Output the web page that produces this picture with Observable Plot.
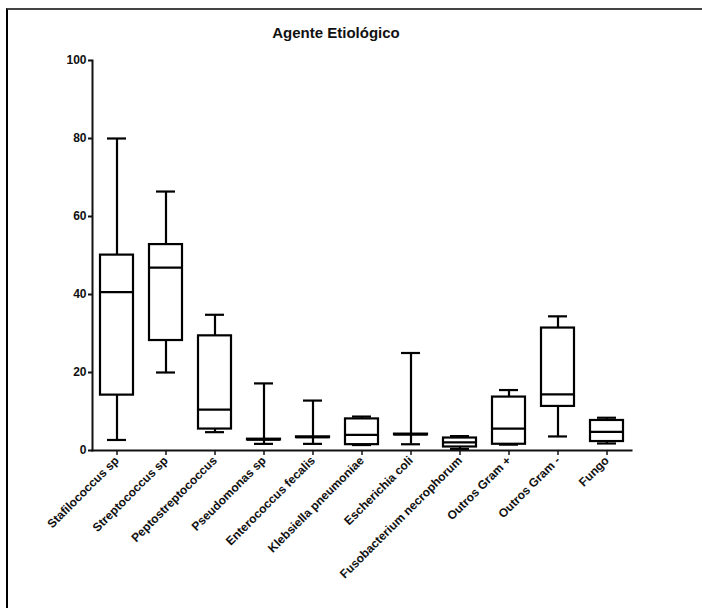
<!DOCTYPE html>
<html>
<head>
<meta charset="utf-8">
<script src="https://cdn.jsdelivr.net/npm/d3@7"></script>
<script src="https://cdn.jsdelivr.net/npm/@observablehq/plot@0.6"></script>
<style>
  html, body { margin: 0; padding: 0; background: #fff; }
  #wrap { position: relative; width: 702px; height: 608px; overflow: hidden; font-family: "Liberation Sans", Arial, sans-serif; }
  #border { position: absolute; left: 6px; top: 8px; width: 720px; height: 620px; border-left: 2px solid #000; border-top: 2px solid #444; }
  #title { position: absolute; left: 0; width: 672px; top: 24px; text-align: center; font-weight: bold; font-size: 15px; color: #111; }
  #chart { position: absolute; left: 0; top: 0; }
</style>
</head>
<body>
<div id="wrap">
  <div id="border"></div>
  <div id="title">Agente Etiológico</div>
  <div id="chart"></div>
</div>
<script>
const categories = ["Stafilococcus sp", "Streptococcus sp", "Peptostreptococcus", "Pseudomonas sp", "Enterococcus fecalis", "Klebsiella pneumoniae", "Escherichia coli", "Fusobacterium necrophorum", "Outros Gram +", "Outros Gram -", "Fungo"];
const mins    = [2.7, 20.0, 4.7, 1.7, 1.7, 1.4, 1.6, 0.4, 1.5, 3.6, 1.8];
const q1s     = [14.2, 28.2, 5.5, 2.7, 3.3, 1.5, 4.0, 0.9, 1.6, 11.3, 2.3];
const medians = [40.6, 46.9, 10.5, 2.8, 3.4, 4.0, 4.1, 2.1, 5.6, 14.4, 4.8];
const q3s     = [50.1, 52.8, 29.4, 2.9, 3.5, 8.1, 4.2, 3.2, 13.7, 31.4, 7.7];
const maxs    = [80.0, 66.4, 34.8, 17.2, 12.8, 8.7, 25.0, 3.7, 15.5, 34.4, 8.4];
const yTicks  = [0, 20, 40, 60, 80, 100];

const rows = categories.map((c, i) => ({cat: c, min: mins[i], q1: q1s[i], med: medians[i], q3: q3s[i], max: maxs[i]}));

const plot = Plot.plot({
  width: 702,
  height: 600,
  marginLeft: 92,
  marginRight: 71,
  marginTop: 60,
  marginBottom: 150,
  style: {fontFamily: "'Liberation Sans', Arial, sans-serif", background: "transparent", color: "#111"},
  x: {type: "band", domain: categories, padding: 0, label: null},
  y: {domain: [0, 100], label: null},
  marks: [
    // whiskers
    Plot.ruleX(rows, {x: "cat", y1: "min", y2: "q1", stroke: "#000", strokeWidth: 2.2}),
    Plot.ruleX(rows, {x: "cat", y1: "q3", y2: "max", stroke: "#000", strokeWidth: 2.2}),
    // caps
    Plot.tickY(rows, {x: "cat", y: "min", stroke: "#000", strokeWidth: 2.2, insetLeft: 15, insetRight: 15}),
    Plot.tickY(rows, {x: "cat", y: "max", stroke: "#000", strokeWidth: 2.2, insetLeft: 15, insetRight: 15}),
    // boxes
    Plot.barY(rows, {x: "cat", y1: "q1", y2: "q3", fill: "#fff", stroke: "#000", strokeWidth: 2.2, insetLeft: 8, insetRight: 8, insetTop: 0, insetBottom: 0}),
    // medians
    Plot.tickY(rows, {x: "cat", y: "med", stroke: "#000", strokeWidth: 2.2, insetLeft: 8, insetRight: 8}),
    // axes
    Plot.axisY({ticks: yTicks, tickSize: 4, tickPadding: 2, fontSize: 12, fontWeight: "bold", strokeWidth: 2}),
    Plot.axisX({tickSize: 5, tickRotate: -45, tickPadding: 3, fontSize: 12, fontWeight: "bold", strokeWidth: 1.5}),
    Plot.frame({anchor: "left", stroke: "#111", strokeWidth: 2}),
    Plot.frame({anchor: "bottom", stroke: "#111", strokeWidth: 2})
  ]
});
plot.querySelectorAll("[aria-label='x-axis tick label'] text, [aria-label='y-axis tick label'] text").forEach(t => t.setAttribute("font-weight", "bold"));
document.getElementById("chart").appendChild(plot);
</script>
</body>
</html>
